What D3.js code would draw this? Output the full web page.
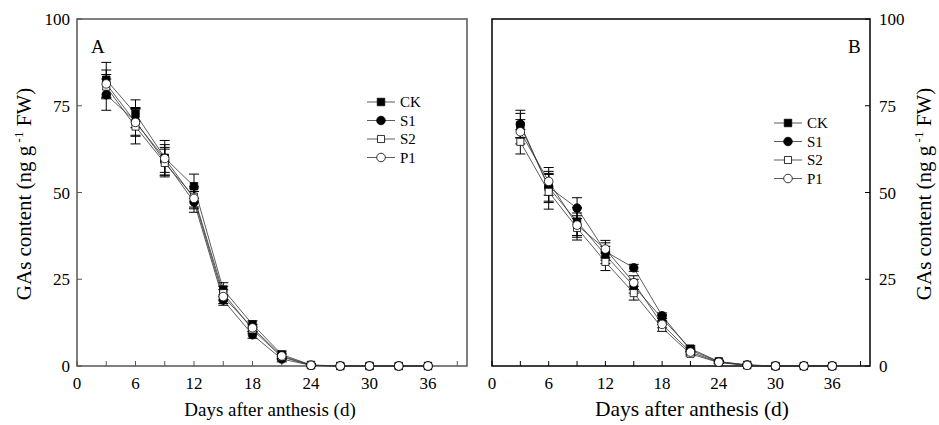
<!DOCTYPE html>
<html>
<head>
<meta charset="utf-8">
<script src="https://cdn.jsdelivr.net/npm/d3@7"></script>
<style>
  body { margin: 0; background: #fff; }
  text { font-family: "Liberation Serif", "Times New Roman", serif; fill: #000; }
</style>
</head>
<body>
<div id="chart"></div>
<script>
var days = [3, 6, 9, 12, 15, 18, 21, 24, 27, 30, 33, 36];
var seriesNames = ["CK", "S1", "S2", "P1"];

// panel A values and errors
var ckA = [82.5, 72.7, 60, 51.8, 22, 12, 3.3, 0.3, 0, 0, 0, 0];
var s1A = [78.2, 70.5, 59, 47.3, 19, 9, 2, 0.2, 0, 0, 0, 0];
var s2A = [80.5, 69, 58.5, 48.8, 21, 10.5, 2.6, 0.2, 0, 0, 0, 0];
var p1A = [81.3, 70.2, 59.8, 48.3, 20, 11, 2.9, 0.2, 0, 0, 0, 0];
var ckAErr = [5, 4, 5, 3.5, 2, 1, 1, 0.3, 0, 0, 0, 0];
var s1AErr = [4.5, 4, 4, 3, 1.5, 1, 0.8, 0.3, 0, 0, 0, 0];
var s2AErr = [3.5, 5, 4, 3, 2, 1, 0.8, 0.3, 0, 0, 0, 0];
var p1AErr = [4, 4, 4, 3, 2, 1, 0.8, 0.3, 0, 0, 0, 0];

// panel B values and errors
var ckB = [69.3, 51.5, 41.6, 32, 23, 13.7, 5, 1.3, 0.3, 0, 0, 0];
var s1B = [69.7, 51.6, 45.5, 33, 28.3, 14.5, 4.6, 1.2, 0.3, 0, 0, 0];
var s2B = [64.6, 50.2, 39.8, 30, 21, 11, 3.5, 1, 0.2, 0, 0, 0];
var p1B = [67.5, 53.2, 40.6, 33.7, 24, 12, 4, 1.1, 0.2, 0, 0, 0];
var ckBErr = [3.5, 4, 4, 2.5, 2, 1, 0.8, 0.4, 0.2, 0, 0, 0];
var s1BErr = [4, 4.5, 3, 2.5, 1, 0.8, 0.6, 0.3, 0.2, 0, 0, 0];
var s2BErr = [3.5, 5, 3.5, 2.5, 2, 1, 0.6, 0.3, 0.2, 0, 0, 0];
var p1BErr = [3.5, 4, 3.5, 2.5, 2, 1, 0.6, 0.3, 0.2, 0, 0, 0];

var xTicks = [0, 3, 6, 9, 12, 15, 18, 21, 24, 27, 30, 33, 36, 39];
var xLabels = [0, 6, 12, 18, 24, 30, 36];
var yTicks = [0, 25, 50, 75, 100];

var svg = d3.select("#chart").append("svg")
    .attr("width", 939)
    .attr("height", 425);

var markerSymbol = {
    "CK": d3.symbolSquare, "S1": d3.symbolCircle,
    "S2": d3.symbolSquare, "P1": d3.symbolCircle
};
var markerFill = { "CK": "#000", "S1": "#000", "S2": "#fff", "P1": "#fff" };
var markerSize = { "CK": 56, "S1": 58, "S2": 50, "P1": 58 };

function drawPanel(opt) {
    var x = d3.scaleLinear().domain([0, 40]).range([opt.left, opt.right]);
    var y = d3.scaleLinear().domain([0, 100]).range([366, 19]);
    var g = svg.append("g");

    // frame
    g.append("rect")
        .attr("x", opt.left).attr("y", 19)
        .attr("width", opt.right - opt.left).attr("height", 347)
        .attr("fill", "none").attr("stroke", opt.frameColor).attr("stroke-width", 1.5);

    // x ticks (inward)
    g.selectAll(".xt").data(xTicks).enter().append("line")
        .attr("x1", function(d) { return x(d); }).attr("x2", function(d) { return x(d); })
        .attr("y1", 366).attr("y2", 361)
        .attr("stroke", opt.frameColor).attr("stroke-width", 1);
    g.selectAll(".xl").data(xLabels).enter().append("text")
        .attr("x", function(d) { return x(d); }).attr("y", 389)
        .attr("text-anchor", "middle").attr("font-size", 17)
        .text(function(d) { return d; });

    // y ticks
    var tx = opt.yRight ? opt.right : opt.left;
    var dir = opt.yRight ? -1 : 1;
    g.selectAll(".yt").data(yTicks).enter().append("line")
        .attr("x1", tx).attr("x2", tx + dir * 5)
        .attr("y1", function(d) { return y(d); }).attr("y2", function(d) { return y(d); })
        .attr("stroke", opt.frameColor).attr("stroke-width", 1);
    g.selectAll(".yl").data(yTicks).enter().append("text")
        .attr("x", opt.yRight ? tx + 9 : tx - 7)
        .attr("y", function(d) { return y(d) + 6; })
        .attr("text-anchor", opt.yRight ? "start" : "end")
        .attr("font-size", 17)
        .text(function(d) { return d; });

    // axis titles
    g.append("text")
        .attr("x", (opt.left + opt.right) / 2 + opt.xTitleShift).attr("y", 416)
        .attr("text-anchor", "middle").attr("font-size", opt.xTitleSize)
        .text("Days after anthesis (d)");

    var yt = g.append("text")
        .attr("transform", "translate(" + opt.yTitleX + ",194) rotate(-90)")
        .attr("text-anchor", "middle").attr("font-size", 21);
    yt.append("tspan").text("GAs content (ng g");
    yt.append("tspan").attr("dy", -8).attr("font-size", 13).text(" -1");
    yt.append("tspan").attr("dy", 8).text(" FW)");

    // panel letter
    g.append("text")
        .attr("x", opt.letterX).attr("y", 53)
        .attr("font-size", 19).text(opt.letter);

    var line = d3.line()
        .x(function(d) { return x(d.day); })
        .y(function(d) { return y(d.v); });

    opt.series.forEach(function(s) {
        var pts = days.map(function(d, i) { return { day: d, v: s.values[i], e: s.errs[i] }; });
        g.append("path").datum(pts)
            .attr("d", line).attr("fill", "none")
            .attr("stroke", "#333").attr("stroke-width", 0.8);

        var eb = g.selectAll(null).data(pts.filter(function(p) { return p.e > 0; })).enter().append("g")
            .attr("stroke", "#000").attr("stroke-width", 1);
        eb.append("line")
            .attr("x1", function(p) { return x(p.day); }).attr("x2", function(p) { return x(p.day); })
            .attr("y1", function(p) { return y(p.v - p.e); }).attr("y2", function(p) { return y(p.v + p.e); });
        eb.append("line")
            .attr("x1", function(p) { return x(p.day) - 5; }).attr("x2", function(p) { return x(p.day) + 5; })
            .attr("y1", function(p) { return y(p.v + p.e); }).attr("y2", function(p) { return y(p.v + p.e); });
        eb.append("line")
            .attr("x1", function(p) { return x(p.day) - 5; }).attr("x2", function(p) { return x(p.day) + 5; })
            .attr("y1", function(p) { return y(p.v - p.e); }).attr("y2", function(p) { return y(p.v - p.e); });
    });

    opt.series.forEach(function(s) {
        var pts = days.map(function(d, i) { return { day: d, v: s.values[i] }; });
        g.selectAll(null).data(pts).enter().append("path")
            .attr("d", d3.symbol().type(markerSymbol[s.name]).size(markerSize[s.name]))
            .attr("transform", function(p) { return "translate(" + x(p.day) + "," + y(p.v) + ")"; })
            .attr("fill", markerFill[s.name]).attr("stroke", "#000").attr("stroke-width", 0.8);
    });

    // legend
    seriesNames.forEach(function(name, i) {
        var ly = opt.legendY + i * 18.5;
        var lx = opt.legendX;
        g.append("line").attr("x1", lx).attr("x2", lx + 28)
            .attr("y1", ly).attr("y2", ly).attr("stroke", "#333").attr("stroke-width", 0.8);
        g.append("path")
            .attr("d", d3.symbol().type(markerSymbol[name]).size(markerSize[name]))
            .attr("transform", "translate(" + (lx + 14) + "," + ly + ")")
            .attr("fill", markerFill[name]).attr("stroke", "#000").attr("stroke-width", 0.8);
        g.append("text").attr("x", lx + 33).attr("y", ly + 5)
            .attr("font-size", 15).text(name);
    });
}

drawPanel({
    left: 77, right: 467, frameColor: "#555", yRight: false, yTitleX: 31,
    xTitleShift: -2, xTitleSize: 19, letter: "A", letterX: 91, legendX: 367, legendY: 102,
    series: [
        { name: "CK", values: ckA, errs: ckAErr },
        { name: "S1", values: s1A, errs: s1AErr },
        { name: "S2", values: s2A, errs: s2AErr },
        { name: "P1", values: p1A, errs: p1AErr }
    ]
});

drawPanel({
    left: 492, right: 870, frameColor: "#000", yRight: true, yTitleX: 931,
    xTitleShift: 11, xTitleSize: 21.5, letter: "B", letterX: 848, legendX: 774, legendY: 123,
    series: [
        { name: "CK", values: ckB, errs: ckBErr },
        { name: "S1", values: s1B, errs: s1BErr },
        { name: "S2", values: s2B, errs: s2BErr },
        { name: "P1", values: p1B, errs: p1BErr }
    ]
});
</script>
</body>
</html>
